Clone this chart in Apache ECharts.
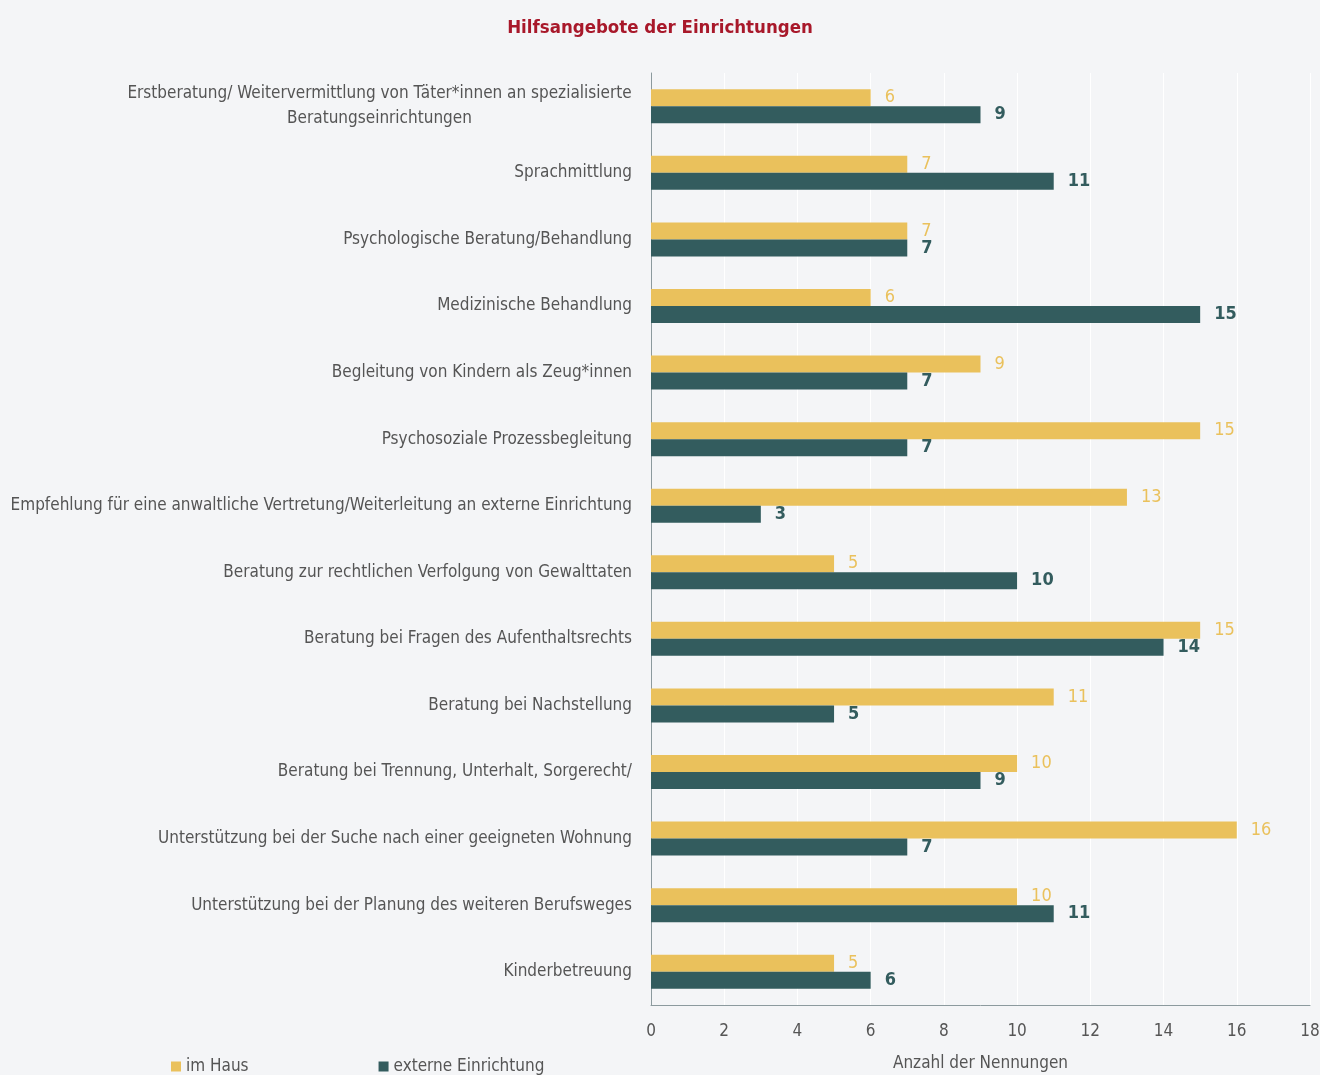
<!DOCTYPE html>
<html>
<head>
<meta charset="utf-8">
<script src="https://cdn.jsdelivr.net/npm/echarts@6/dist/echarts.min.js"></script>
<style>
html,body{margin:0;padding:0;background:#f4f5f7;}
#main{width:1320px;height:1075px;}
</style>
</head>
<body>
<div id="main"></div>
<script>
// Kategorien (von oben nach unten)
var categories = [
	'Erstberatung/ Weitervermittlung von Täter*innen an spezialisierte\nBeratungseinrichtungen',
	'Sprachmittlung',
	'Psychologische Beratung/Behandlung',
	'Medizinische Behandlung',
	'Begleitung von Kindern als Zeug*innen',
	'Psychosoziale Prozessbegleitung',
	'Empfehlung für eine anwaltliche Vertretung/Weiterleitung an externe Einrichtung',
	'Beratung zur rechtlichen Verfolgung von Gewalttaten',
	'Beratung bei Fragen des Aufenthaltsrechts',
	'Beratung bei Nachstellung',
	'Beratung bei Trennung, Unterhalt, Sorgerecht/',
	'Unterstützung bei der Suche nach einer geeigneten Wohnung',
	'Unterstützung bei der Planung des weiteren Berufsweges',
	'Kinderbetreuung'
];
var imHaus = [6, 7, 7, 6, 9, 15, 13, 5, 15, 11, 10, 16, 10, 5];
var extern = [9, 11, 7, 15, 7, 7, 3, 10, 14, 5, 9, 7, 11, 6];
var xTicks = [0, 18, 2];

var FONT = '"DejaVu Sans Condensed", "Liberation Sans", sans-serif';
var FS = 17;

// Breite der ersten Zeile messen, damit die zweite Zeile darunter zentriert wird
function textWidth(t) {
	var ctx = document.createElement('canvas').getContext('2d');
	ctx.font = FS + 'px ' + FONT;
	return Math.ceil(ctx.measureText(t).width);
}
var firstLineW = textWidth(categories[0].split('\n')[0]);

var chart = echarts.init(document.getElementById('main'));

var option = {
	backgroundColor: '#f4f5f7',
	textStyle: { fontFamily: FONT },
	title: {
		text: 'Hilfsangebote der Einrichtungen',
		left: 'center',
		top: 14,
		textStyle: { color: '#a8182a', fontSize: 18.5, fontWeight: 'bold', fontFamily: FONT }
	},
	legend: {
		left: 166,
		top: 1053,
		itemWidth: 10,
		itemHeight: 10,
		itemGap: 130,
		icon: 'rect',
		textStyle: { color: '#555', fontSize: FS, fontFamily: FONT },
		data: ['im Haus', 'externe Einrichtung']
	},
	grid: { left: 651, right: 10, top: 73, bottom: 70, outerBoundsMode: 'none' },
	xAxis: {
		type: 'value',
		min: xTicks[0],
		max: xTicks[1],
		interval: xTicks[2],
		name: 'Anzahl der Nennungen',
		nameLocation: 'middle',
		nameGap: 50,
		nameTextStyle: { color: '#555', fontSize: FS, fontFamily: FONT },
		axisLine: { show: true, lineStyle: { color: '#8c9a9e', width: 1 } },
		axisTick: { show: false },
		axisLabel: { color: '#555', fontSize: FS, margin: 18, fontFamily: FONT },
		splitLine: { show: true, lineStyle: { color: '#ffffff', width: 1 } }
	},
	yAxis: {
		type: 'category',
		inverse: true,
		data: categories,
		axisLine: { show: true, lineStyle: { color: '#8c9a9e', width: 1 } },
		axisTick: { show: false },
		axisLabel: {
			color: '#555',
			fontSize: FS,
			margin: 19,
			fontFamily: FONT,
			formatter: function (v) {
				if (v.indexOf('\n') >= 0) {
					var p = v.split('\n');
					return '{c|' + p[0] + '}\n{c|' + p[1] + '}';
				}
				return v;
			},
			rich: {
				c: { color: '#555', fontSize: FS, fontFamily: FONT, width: firstLineW, align: 'center', lineHeight: 25 }
			}
		}
	},
	series: [
		{
			name: 'im Haus',
			type: 'bar',
			data: imHaus,
			barWidth: 17,
			barGap: '0%',
			itemStyle: { color: '#eac15c' },
			label: { show: true, position: 'right', distance: 14, color: '#eac15c', fontSize: 18, fontFamily: FONT }
		},
		{
			name: 'externe Einrichtung',
			type: 'bar',
			data: extern,
			barWidth: 17,
			barGap: '0%',
			itemStyle: { color: '#335c5e' },
			label: { show: true, position: 'right', distance: 14, color: '#335c5e', fontSize: 18, fontWeight: 'bold', fontFamily: FONT }
		}
	]
};
chart.setOption(option);
</script>
</body>
</html>
